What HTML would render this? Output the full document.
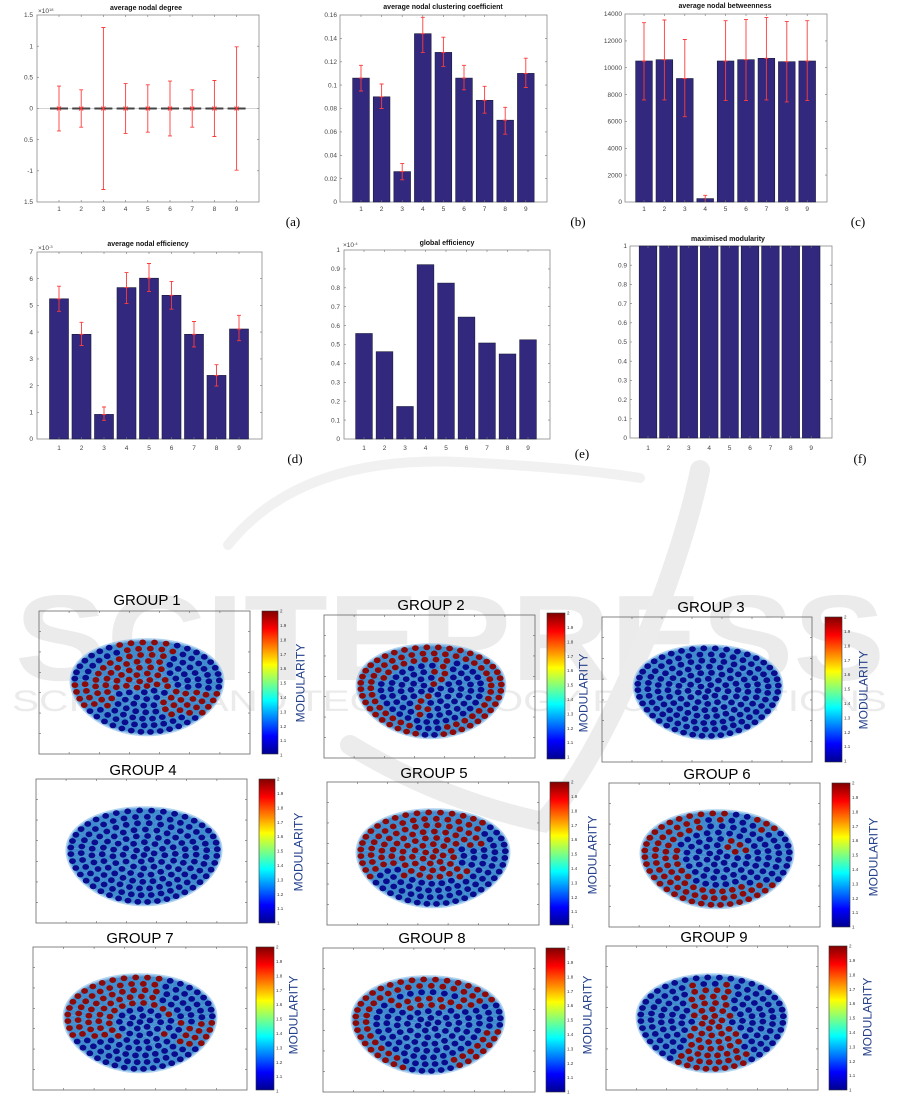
<!DOCTYPE html>
<html><head><meta charset="utf-8">
<style>
html,body{margin:0;padding:0;background:#fff;}
svg{display:block}
.tk{font-family:"Liberation Sans",sans-serif;font-size:6.5px;fill:#444}
.tr{text-anchor:end}
.tm{text-anchor:middle}
.tt{font-family:"Liberation Sans",sans-serif;font-size:7px;font-weight:bold;fill:#111;text-anchor:middle}
.lab{font-family:"Liberation Serif",serif;font-size:13px;fill:#000;text-anchor:middle}
.gt{font-family:"Liberation Sans",sans-serif;font-size:15px;fill:#000;text-anchor:middle}
.mod{font-family:"Liberation Sans",sans-serif;font-size:12px;fill:#23408a;text-anchor:middle}
.cb{font-family:"Liberation Sans",sans-serif;font-size:4.5px;fill:#333}
.bx{fill:none;stroke:#8a8a8a;stroke-width:0.8}
.gb{fill:none;stroke:#666;stroke-width:0.8}
.bar{fill:#32297f;stroke:#1a1a3a;stroke-width:0.6}
.eb{fill:none;stroke:#ff3a3a;stroke-width:0.9}
.cbr{fill:url(#jet);stroke:#333;stroke-width:0.6}
</style></head><body>
<svg xmlns="http://www.w3.org/2000/svg" width="901" height="1097" viewBox="0 0 901 1097">
<defs>
<linearGradient id="jet" x1="0" y1="1" x2="0" y2="0">
<stop offset="0" stop-color="#00008f"/>
<stop offset="0.125" stop-color="#0000ff"/>
<stop offset="0.375" stop-color="#00ffff"/>
<stop offset="0.625" stop-color="#ffff00"/>
<stop offset="0.875" stop-color="#ff0000"/>
<stop offset="1" stop-color="#800000"/>
</linearGradient>
</defs>
<rect width="901" height="1097" fill="#fff"/>

<!-- watermark -->
<g fill="#ebebeb">
<text x="15" y="680" font-family="Liberation Sans" font-weight="bold" font-size="122" textLength="870" lengthAdjust="spacingAndGlyphs">SCITEPRESS</text>
<text x="12" y="711" font-family="Liberation Sans" font-size="30" textLength="875" lengthAdjust="spacingAndGlyphs">SCIENCE AND TECHNOLOGY PUBLICATIONS</text>
</g>
<path d="M350 745 Q440 800 543 822 Q600 760 665 590 Q690 520 700 470" fill="none" stroke="#ececec" stroke-width="20" stroke-linecap="round"/>
<path d="M228 545 Q300 455 460 462 Q580 468 640 478" fill="none" stroke="#f1f1f1" stroke-width="10" stroke-linecap="round"/>

<!-- ===== (a) ===== -->
<rect class="bx" x="37" y="15" width="222" height="187"/>
<text class="tt" x="146" y="10">average nodal degree</text>
<text class="tk" x="38" y="13" font-size="5">×10<tspan font-size="4" dy="-2">18</tspan></text>
<g class="tk tr">
<text x="33" y="17.2">1.5</text><text x="33" y="48.4">1</text><text x="33" y="79.5">0.5</text><text x="33" y="110.7">0</text><text x="33" y="141.9">0.5</text><text x="33" y="173">-1</text><text x="33" y="204.2">1.5</text>
</g>
<g class="tk tm">
<text x="59" y="211">1</text><text x="81.2" y="211">2</text><text x="103.4" y="211">3</text><text x="125.6" y="211">4</text><text x="147.8" y="211">5</text><text x="170" y="211">6</text><text x="192.2" y="211">7</text><text x="214.4" y="211">8</text><text x="236.6" y="211">9</text>
</g>
<line x1="37" y1="108.5" x2="259" y2="108.5" stroke="#aaa" stroke-width="0.6"/>
<g fill="#444">
<rect x="50" y="107.5" width="18" height="2"/><rect x="72.2" y="107.5" width="18" height="2"/><rect x="94.4" y="107.5" width="18" height="2"/><rect x="116.6" y="107.5" width="18" height="2"/><rect x="138.8" y="107.5" width="18" height="2"/><rect x="161" y="107.5" width="18" height="2"/><rect x="183.2" y="107.5" width="18" height="2"/><rect x="205.4" y="107.5" width="18" height="2"/><rect x="227.6" y="107.5" width="18" height="2"/>
</g>
<path class="eb" d="M59 86.1V130.9M57 86.1h4M57 130.9h4M57 106.5l4 4M61 106.5l-4 4
M81.2 89.8V127.2M79.2 89.8h4M79.2 127.2h4M79.2 106.5l4 4M83.2 106.5l-4 4
M103.4 27.5V189.5M101.4 27.5h4M101.4 189.5h4M101.4 106.5l4 4M105.4 106.5l-4 4
M125.6 83.6V133.4M123.6 83.6h4M123.6 133.4h4M123.6 106.5l4 4M127.6 106.5l-4 4
M147.8 84.8V132.2M145.8 84.8h4M145.8 132.2h4M145.8 106.5l4 4M149.8 106.5l-4 4
M170 81.1V135.9M168 81.1h4M168 135.9h4M168 106.5l4 4M172 106.5l-4 4
M192.2 89.8V127.2M190.2 89.8h4M190.2 127.2h4M190.2 106.5l4 4M194.2 106.5l-4 4
M214.4 80.5V136.5M212.4 80.5h4M212.4 136.5h4M212.4 106.5l4 4M216.4 106.5l-4 4
M236.6 46.8V170.2M234.6 46.8h4M234.6 170.2h4M234.6 106.5l4 4M238.6 106.5l-4 4"/>
<text class="lab" x="293" y="226">(a)</text>

<!-- ===== (b) ===== -->
<rect class="bx" x="340" y="15" width="207" height="187"/>
<text class="tt" x="443" y="9">average nodal clustering coefficient</text>
<g class="tk tr">
<text x="337" y="17.2">0.16</text><text x="337" y="40.6">0.14</text><text x="337" y="64">0.12</text><text x="337" y="87.3">0.1</text><text x="337" y="110.7">0.08</text><text x="337" y="134.1">0.06</text><text x="337" y="157.5">0.04</text><text x="337" y="180.8">0.02</text><text x="337" y="204.2">0</text>
</g>
<g class="tk tm">
<text x="361" y="211">1</text><text x="381.6" y="211">2</text><text x="402.2" y="211">3</text><text x="422.8" y="211">4</text><text x="443.4" y="211">5</text><text x="464" y="211">6</text><text x="484.6" y="211">7</text><text x="505.2" y="211">8</text><text x="525.8" y="211">9</text>
</g>
<g class="bar">
<rect x="352.65" y="78.1" width="16.7" height="123.9"/>
<rect x="373.25" y="96.8" width="16.7" height="105.2"/>
<rect x="393.85" y="171.6" width="16.7" height="30.4"/>
<rect x="414.45" y="33.7" width="16.7" height="168.3"/>
<rect x="435.05" y="52.4" width="16.7" height="149.6"/>
<rect x="455.65" y="78.1" width="16.7" height="123.9"/>
<rect x="476.25" y="100.3" width="16.7" height="101.7"/>
<rect x="496.85" y="120.2" width="16.7" height="81.8"/>
<rect x="517.45" y="73.4" width="16.7" height="128.6"/>
</g>
<path class="eb" d="M361 65.3V91M359 65.3h4M359 91h4M359 78.1h4
M381.6 84V108.5M379.6 84h4M379.6 108.5h4M379.6 96.8h4
M402.2 163.4V179.8M400.2 163.4h4M400.2 179.8h4M400.2 171.6h4
M422.8 17.3V52.4M420.8 17.3h4M420.8 52.4h4M420.8 33.7h4
M443.4 37.2V66.4M441.4 37.2h4M441.4 66.4h4M441.4 52.4h4
M464 65.3V89.8M462 65.3h4M462 89.8h4M462 78.1h4
M484.6 86.3V113.2M482.6 86.3h4M482.6 113.2h4M482.6 100.3h4
M505.2 107.3V134.2M503.2 107.3h4M503.2 134.2h4M503.2 120.2h4
M525.8 58.2V87.5M523.8 58.2h4M523.8 87.5h4M523.8 73.4h4"/>
<text class="lab" x="578" y="226">(b)</text>

<!-- ===== (c) ===== -->
<rect class="bx" x="625" y="14" width="202" height="188"/>
<text class="tt" x="725" y="8">average nodal betweenness</text>
<g class="tk tr">
<text x="622" y="16.2">14000</text><text x="622" y="43.1">12000</text><text x="622" y="69.9">10000</text><text x="622" y="96.8">8000</text><text x="622" y="123.6">6000</text><text x="622" y="150.5">4000</text><text x="622" y="177.3">2000</text><text x="622" y="204.2">0</text>
</g>
<g class="tk tm">
<text x="644" y="211">1</text><text x="664.4" y="211">2</text><text x="684.8" y="211">3</text><text x="705.2" y="211">4</text><text x="725.6" y="211">5</text><text x="746" y="211">6</text><text x="766.4" y="211">7</text><text x="786.8" y="211">8</text><text x="807.2" y="211">9</text>
</g>
<g class="bar">
<rect x="635.65" y="61" width="16.7" height="141"/>
<rect x="656.05" y="59.7" width="16.7" height="142.3"/>
<rect x="676.45" y="78.5" width="16.7" height="123.5"/>
<rect x="696.85" y="198.6" width="16.7" height="3.4"/>
<rect x="717.25" y="61" width="16.7" height="141"/>
<rect x="737.65" y="59.7" width="16.7" height="142.3"/>
<rect x="758.05" y="58.3" width="16.7" height="143.7"/>
<rect x="778.45" y="61.7" width="16.7" height="140.3"/>
<rect x="798.85" y="61" width="16.7" height="141"/>
</g>
<path class="eb" d="M644 22.7V99.9M642 22.7h4M642 99.9h4M642 61h4
M664.4 20V99.9M662.4 20h4M662.4 99.9h4M662.4 59.7h4
M684.8 39.5V116.7M682.8 39.5h4M682.8 116.7h4M682.8 78.5h4
M705.2 195.3V202M703.2 195.3h4
M725.6 20.7V100.6M723.6 20.7h4M723.6 100.6h4M723.6 61h4
M746 19.4V100.6M744 19.4h4M744 100.6h4M744 59.7h4
M766.4 17.4V99.9M764.4 17.4h4M764.4 99.9h4M764.4 58.3h4
M786.8 21.4V101.9M784.8 21.4h4M784.8 101.9h4M784.8 61.7h4
M807.2 20.7V100.6M805.2 20.7h4M805.2 100.6h4M805.2 61h4"/>
<text class="lab" x="858" y="226">(c)</text>

<!-- ===== (d) ===== -->
<rect class="bx" x="37" y="252" width="225" height="187"/>
<text class="tt" x="148" y="246">average nodal efficiency</text>
<text class="tk" x="38" y="250" font-size="5">×10<tspan font-size="4" dy="-2">-3</tspan></text>
<g class="tk tr">
<text x="33" y="254.2">7</text><text x="33" y="280.9">6</text><text x="33" y="307.6">5</text><text x="33" y="334.3">4</text><text x="33" y="361.1">3</text><text x="33" y="387.8">2</text><text x="33" y="414.5">1</text><text x="33" y="441.2">0</text>
</g>
<g class="tk tm">
<text x="59" y="450">1</text><text x="81.5" y="450">2</text><text x="104" y="450">3</text><text x="126.5" y="450">4</text><text x="149" y="450">5</text><text x="171.5" y="450">6</text><text x="194" y="450">7</text><text x="216.5" y="450">8</text><text x="239" y="450">9</text>
</g>
<g class="bar">
<rect x="49.5" y="298.8" width="19" height="140.2"/>
<rect x="72" y="334.3" width="19" height="104.7"/>
<rect x="94.5" y="414.4" width="19" height="24.6"/>
<rect x="117" y="287.6" width="19" height="151.4"/>
<rect x="139.5" y="278.2" width="19" height="160.8"/>
<rect x="162" y="295.3" width="19" height="143.7"/>
<rect x="184.5" y="334.3" width="19" height="104.7"/>
<rect x="207" y="375.4" width="19" height="63.6"/>
<rect x="229.5" y="329" width="19" height="110"/>
</g>
<path class="eb" d="M59 286.2V311.3M57 286.2h4M57 311.3h4M57 298.8h4
M81.5 322.3V345.5M79.5 322.3h4M79.5 345.5h4M79.5 334.3h4
M104 407V420.3M102 407h4M102 420.3h4M102 414.4h4
M126.5 272.6V303.6M124.5 272.6h4M124.5 303.6h4M124.5 287.6h4
M149 263.5V291.6M147 263.5h4M147 291.6h4M147 278.2h4
M171.5 281.4V309.2M169.5 281.4h4M169.5 309.2h4M169.5 295.3h4
M194 321.5V346.9M192 321.5h4M192 346.9h4M192 334.3h4
M216.5 364.7V386.1M214.5 364.7h4M214.5 386.1h4M214.5 375.4h4
M239 315.3V340.7M237 315.3h4M237 340.7h4M237 329h4"/>
<text class="lab" x="295" y="463">(d)</text>

<!-- ===== (e) ===== -->
<rect class="bx" x="344" y="250" width="206" height="189"/>
<text class="tt" x="447" y="245">global efficiency</text>
<text class="tk" x="343" y="247" font-size="5">×10<tspan font-size="4" dy="-2">-4</tspan></text>
<g class="tk tr">
<text x="340" y="252.2">1</text><text x="340" y="271.1">0.9</text><text x="340" y="290">0.8</text><text x="340" y="308.9">0.7</text><text x="340" y="327.8">0.6</text><text x="340" y="346.7">0.5</text><text x="340" y="365.6">0.4</text><text x="340" y="384.5">0.3</text><text x="340" y="403.4">0.2</text><text x="340" y="422.3">0.1</text><text x="340" y="441.2">0</text>
</g>
<g class="tk tm">
<text x="364" y="450">1</text><text x="384.5" y="450">2</text><text x="405" y="450">3</text><text x="425.5" y="450">4</text><text x="446" y="450">5</text><text x="466.5" y="450">6</text><text x="487" y="450">7</text><text x="507.5" y="450">8</text><text x="528" y="450">9</text>
</g>
<g class="bar">
<rect x="355.65" y="333.5" width="16.7" height="105.5"/>
<rect x="376.15" y="351.7" width="16.7" height="87.3"/>
<rect x="396.65" y="406.5" width="16.7" height="32.5"/>
<rect x="417.15" y="264.7" width="16.7" height="174.3"/>
<rect x="437.65" y="283.1" width="16.7" height="155.9"/>
<rect x="458.15" y="317.1" width="16.7" height="121.9"/>
<rect x="478.65" y="343" width="16.7" height="96"/>
<rect x="499.15" y="354" width="16.7" height="85"/>
<rect x="519.65" y="339.8" width="16.7" height="99.2"/>
</g>
<text class="lab" x="582" y="458">(e)</text>

<!-- ===== (f) ===== -->
<rect class="bx" x="630" y="246" width="202" height="192"/>
<text class="tt" x="728" y="241">maximised modularity</text>
<g class="tk tr">
<text x="627" y="248.2">1</text><text x="627" y="267.4">0.9</text><text x="627" y="286.6">0.8</text><text x="627" y="305.8">0.7</text><text x="627" y="325">0.6</text><text x="627" y="344.2">0.5</text><text x="627" y="363.4">0.4</text><text x="627" y="382.6">0.3</text><text x="627" y="401.8">0.2</text><text x="627" y="421">0.1</text><text x="627" y="440.2">0</text>
</g>
<g class="tk tm">
<text x="648" y="450">1</text><text x="668.4" y="450">2</text><text x="688.8" y="450">3</text><text x="709.2" y="450">4</text><text x="729.6" y="450">5</text><text x="750" y="450">6</text><text x="770.4" y="450">7</text><text x="790.8" y="450">8</text><text x="811.2" y="450">9</text>
</g>
<g class="bar">
<rect x="639.2" y="246" width="17.6" height="192"/>
<rect x="659.6" y="246" width="17.6" height="192"/>
<rect x="680" y="246" width="17.6" height="192"/>
<rect x="700.4" y="246" width="17.6" height="192"/>
<rect x="720.8" y="246" width="17.6" height="192"/>
<rect x="741.2" y="246" width="17.6" height="192"/>
<rect x="761.6" y="246" width="17.6" height="192"/>
<rect x="782" y="246" width="17.6" height="192"/>
<rect x="802.4" y="246" width="17.6" height="192"/>
</g>
<text class="lab" x="860" y="463">(f)</text>

<!-- ===== GROUP panels ===== -->
<g class="gt">
<text x="147" y="605">GROUP 1</text>
<text x="431" y="610">GROUP 2</text>
<text x="711" y="612">GROUP 3</text>
<text x="143" y="775">GROUP 4</text>
<text x="434" y="778">GROUP 5</text>
<text x="717" y="779">GROUP 6</text>
<text x="140" y="943">GROUP 7</text>
<text x="432" y="943">GROUP 8</text>
<text x="714" y="942">GROUP 9</text>
</g>
<g class="gb">
<rect x="39" y="611" width="211" height="143"/>
<rect x="324" y="615" width="211" height="143"/>
<rect x="602" y="617" width="210" height="145"/>
<rect x="36" y="779" width="211" height="144"/>
<rect x="327" y="782" width="212" height="143"/>
<rect x="609" y="783" width="211" height="144"/>
<rect x="33" y="947" width="214" height="143"/>
<rect x="323" y="948" width="212" height="144"/>
<rect x="606" y="946" width="212" height="144"/>
</g>
<g>
<rect class="cbr" x="262" y="611" width="16" height="143"/>
<rect class="cbr" x="547" y="613" width="18" height="146"/>
<rect class="cbr" x="825" y="617" width="17" height="145"/>
<rect class="cbr" x="259" y="779" width="16" height="144"/>
<rect class="cbr" x="550" y="782" width="19" height="143"/>
<rect class="cbr" x="832" y="783" width="18" height="144"/>
<rect class="cbr" x="256" y="947" width="18" height="143"/>
<rect class="cbr" x="546" y="948" width="19" height="144"/>
<rect class="cbr" x="829" y="946" width="18" height="144"/>
</g>
<g class="cb" transform="translate(280,611)"><text y="1.6">2</text><text y="16">1.9</text><text y="30.4">1.8</text><text y="44.8">1.7</text><text y="59.2">1.6</text><text y="73.6">1.5</text><text y="88">1.4</text><text y="102.4">1.3</text><text y="116.8">1.2</text><text y="131.2">1.1</text><text y="145.6">1</text></g>
<g class="cb" transform="translate(567,613)"><text y="1.6">2</text><text y="16">1.9</text><text y="30.4">1.8</text><text y="44.8">1.7</text><text y="59.2">1.6</text><text y="73.6">1.5</text><text y="88">1.4</text><text y="102.4">1.3</text><text y="116.8">1.2</text><text y="131.2">1.1</text><text y="145.6">1</text></g>
<g class="cb" transform="translate(844,617)"><text y="1.6">2</text><text y="16">1.9</text><text y="30.4">1.8</text><text y="44.8">1.7</text><text y="59.2">1.6</text><text y="73.6">1.5</text><text y="88">1.4</text><text y="102.4">1.3</text><text y="116.8">1.2</text><text y="131.2">1.1</text><text y="145.6">1</text></g>
<g class="cb" transform="translate(277,779)"><text y="1.6">2</text><text y="16">1.9</text><text y="30.4">1.8</text><text y="44.8">1.7</text><text y="59.2">1.6</text><text y="73.6">1.5</text><text y="88">1.4</text><text y="102.4">1.3</text><text y="116.8">1.2</text><text y="131.2">1.1</text><text y="145.6">1</text></g>
<g class="cb" transform="translate(571,782)"><text y="1.6">2</text><text y="16">1.9</text><text y="30.4">1.8</text><text y="44.8">1.7</text><text y="59.2">1.6</text><text y="73.6">1.5</text><text y="88">1.4</text><text y="102.4">1.3</text><text y="116.8">1.2</text><text y="131.2">1.1</text><text y="145.6">1</text></g>
<g class="cb" transform="translate(852,783)"><text y="1.6">2</text><text y="16">1.9</text><text y="30.4">1.8</text><text y="44.8">1.7</text><text y="59.2">1.6</text><text y="73.6">1.5</text><text y="88">1.4</text><text y="102.4">1.3</text><text y="116.8">1.2</text><text y="131.2">1.1</text><text y="145.6">1</text></g>
<g class="cb" transform="translate(276,947)"><text y="1.6">2</text><text y="16">1.9</text><text y="30.4">1.8</text><text y="44.8">1.7</text><text y="59.2">1.6</text><text y="73.6">1.5</text><text y="88">1.4</text><text y="102.4">1.3</text><text y="116.8">1.2</text><text y="131.2">1.1</text><text y="145.6">1</text></g>
<g class="cb" transform="translate(567,948)"><text y="1.6">2</text><text y="16">1.9</text><text y="30.4">1.8</text><text y="44.8">1.7</text><text y="59.2">1.6</text><text y="73.6">1.5</text><text y="88">1.4</text><text y="102.4">1.3</text><text y="116.8">1.2</text><text y="131.2">1.1</text><text y="145.6">1</text></g>
<g class="cb" transform="translate(849,946)"><text y="1.6">2</text><text y="16">1.9</text><text y="30.4">1.8</text><text y="44.8">1.7</text><text y="59.2">1.6</text><text y="73.6">1.5</text><text y="88">1.4</text><text y="102.4">1.3</text><text y="116.8">1.2</text><text y="131.2">1.1</text><text y="145.6">1</text></g>

<g class="mod">
<text transform="translate(304.5,683) rotate(-90)">MODULARITY</text>
<text transform="translate(587.5,693) rotate(-90)">MODULARITY</text>
<text transform="translate(867.5,690) rotate(-90)">MODULARITY</text>
<text transform="translate(302.5,852) rotate(-90)">MODULARITY</text>
<text transform="translate(596.5,855) rotate(-90)">MODULARITY</text>
<text transform="translate(877.5,857) rotate(-90)">MODULARITY</text>
<text transform="translate(297.5,1015) rotate(-90)">MODULARITY</text>
<text transform="translate(591.5,1015) rotate(-90)">MODULARITY</text>
<text transform="translate(871.5,1017) rotate(-90)">MODULARITY</text>
</g>

<g id="js"></g>
</svg>
<script>
(function(){
var NS="http://www.w3.org/2000/svg";
var L=document.getElementById('js');
function el(t,a){var e=document.createElementNS(NS,t);for(var k in a)e.setAttribute(k,a[k]);L.appendChild(e);return e;}
function ticks(x0,y0,x1,y1,xs,ys,len,col){
  var d='';
  xs.forEach(function(x){d+='M'+x+' '+y0+'v'+len+'M'+x+' '+y1+'v'+(-len);});
  ys.forEach(function(y){d+='M'+x0+' '+y+'h'+len+'M'+x1+' '+y+'h'+(-len);});
  el('path',{d:d,stroke:col||'#777','stroke-width':0.6,fill:'none'});
}
function ev(a,b,n){var r=[];for(var i=1;i<n;i++)r.push(+(a+(b-a)*i/n).toFixed(1));return r;}
// chart ticks
ticks(37,15,259,202,[59,81.2,103.4,125.6,147.8,170,192.2,214.4,236.6],[46.2,77.3,108.5,139.7,170.8],2);
ticks(340,15,547,202,[361,381.6,402.2,422.8,443.4,464,484.6,505.2,525.8],[38.4,61.8,85.1,108.5,131.9,155.3,178.6],2);
ticks(625,14,827,202,[644,664.4,684.8,705.2,725.6,746,766.4,786.8,807.2],[40.9,67.7,94.6,121.4,148.3,175.1],2);
ticks(37,252,262,439,[59,81.5,104,126.5,149,171.5,194,216.5,239],[278.7,305.4,332.1,358.9,385.6,412.3],2);
ticks(344,250,550,439,[364,384.5,405,425.5,446,466.5,487,507.5,528],ev(250,439,10),2);
ticks(630,246,832,438,[648,668.4,688.8,709.2,729.6,750,770.4,790.8,811.2],ev(246,438,10),2);
// group boxes ticks
[[39,611,250,754],[324,615,535,758],[602,617,812,762],[36,779,247,923],[327,782,539,925],[609,783,820,927],[33,947,247,1090],[323,948,535,1092],[606,946,818,1090]].forEach(function(b){
  ticks(b[0],b[1],b[2],b[3],ev(b[0],b[2],7),ev(b[1],b[3],7),2,'#666');
});
var A=Math.abs;
function g1(u,v,r){return (v<0.05&&u<0.3&&r<0.78)||(v<-0.6&&A(u)<0.35)||(v>=0.05&&v<0.65&&u>0.2&&r>0.4)||(v>=0.05&&v<0.45&&u<-0.5)||(v>-0.1&&v<0.12&&u<0.1);}
function g2(u,v,r){return (r>0.8&&!(v>0.75&&A(u)<0.2)&&!(v<-0.8&&u>0&&u<0.35))||(r>0.62&&v<-0.2&&u<0.3)||(A(u+v*0.3)<0.08&&r<0.6&&r>0.1);}
function g0(){return false;}
function g5(u,v,r){return (v<0.2&&u<0.65&&!(u>0.3&&v>-0.2))||(v>=0.2&&v<0.45&&u>-0.5&&u<0.5&&r<0.75)||(u<-0.8&&v<0.5);}
function g6(u,v,r){return (r>0.68&&(u<-0.2||v>0.55))||(u<-0.4&&v>-0.2&&r>0.45)||(v<-0.75&&A(u)<0.1)||(v<-0.6&&u>0.5&&r>0.8)||(u>0.1&&u<0.4&&v<-0.1&&v>-0.6&&r<0.55);}
function g7(u,v,r){return (v<0.35&&u<0.4&&r>0.3&&!(v<-0.4&&u>0.2))||(u>0.55&&v>0&&v<0.55)||(v<-0.5&&A(u)<0.3);}
function g8(u,v,r){return (r>0.72&&!(v>0.55&&A(u)<0.35)&&!(u>0.3&&v<0.1&&v>-0.5))||(v<-0.35&&v>-0.6&&u>-0.5&&u<0.6);}
function g9(u,v,r){return A(u)<0.28+0.35*Math.max(0,v)&&!(v<-0.85);}
var nets=[[147,686,75,49,g1],[431,690,73,48,g2],[708,691,73,48,g0],[144,855,76,50,g0],[433,857,75,50,g5],[717,858,75,50,g6],[140,1022,75,50,g7],[428,1024,75,50,g8],[712,1022,74,50,g9]];
function tr(u,v){return [u*(1-0.1*v), v<0?v*0.95:v];}
nets.forEach(function(n){
  var cx=n[0],cy=n[1],hw=n[2]-3,hh=n[3]-3,f=n[4],i,k;
  var pts=[];
  for(i=0;i<72;i++){var a=i/72*2*Math.PI;var p=tr(Math.cos(a)*1.05,Math.sin(a)*1.06);pts.push((cx+p[0]*hw).toFixed(1)+','+(cy+p[1]*hh).toFixed(1));}
  el('polygon',{points:pts.join(' '),fill:'#3f8bcd',stroke:'#8fc1ea','stroke-width':3,'stroke-opacity':0.7,'stroke-linejoin':'round'});
  // light texture lines
  var d='';
  for(i=0;i<40;i++){var a1=i*2.399,a2=a1+2.2+ (i%5)*0.3;var p1=tr(Math.cos(a1),Math.sin(a1)),p2=tr(Math.cos(a2),Math.sin(a2));d+='M'+(cx+p1[0]*hw).toFixed(1)+' '+(cy+p1[1]*hh).toFixed(1)+'L'+(cx+p2[0]*hw).toFixed(1)+' '+(cy+p2[1]*hh).toFixed(1);}
  el('path',{d:d,stroke:'#7db6e6','stroke-width':0.4,'stroke-opacity':0.5,fill:'none'});
  var dots=[];
  for(k=0;k<=7;k++){
    var r=k/7,cnt=k==0?1:6*k;
    for(i=0;i<cnt;i++){
      var a=-Math.PI/2+2*Math.PI*i/cnt+k*0.27;
      var u=r*Math.cos(a),v=r*Math.sin(a);
      var q=tr(u,v);
      dots.push([cx+q[0]*hw,cy+q[1]*hh,f(u,v,r)]);
    }
  }
  dots.sort(function(a,b){return a[1]-b[1];});
  dots.forEach(function(p){
    el('ellipse',{cx:p[0].toFixed(1),cy:p[1].toFixed(1),rx:3.4,ry:2.9,fill:p[2]?'#8c0a0a':'#0b0b8e'});
  });
});
})();
</script>
</body></html>
